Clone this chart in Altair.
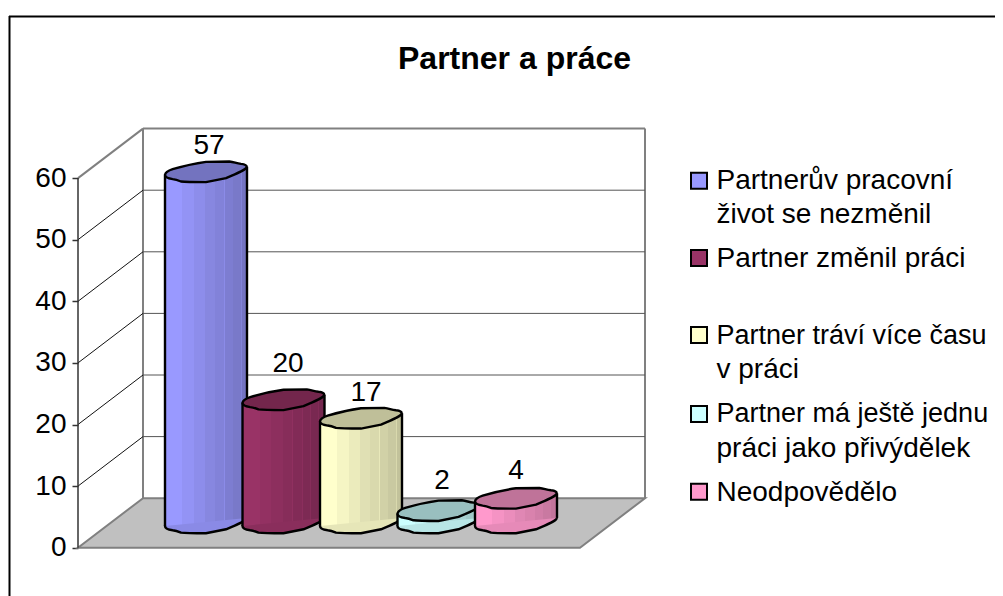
import re

import altair as alt
import pandas as pd

# ---- data -------------------------------------------------------------
title_text = "Partner a práce"
categories = ["Partnerův pracovní život se nezměnil", "Partner změnil práci",
              "Partner tráví více času v práci", "Partner má ještě jednu práci jako přivýdělek",
              "Neodpovědělo"]
values = [57, 20, 17, 2, 4]
base_colors = ["#9999FF", "#993366", "#FFFFCC", "#CCFFFF", "#FF99CC"]
y_ticks = [0, 10, 20, 30, 40, 50, 60]
legend_lines = ["Partnerův pracovní", "život se nezměnil", "Partner změnil práci",
                "Partner tráví více času", "v práci", "Partner má ještě jednu",
                "práci jako přivýdělek", "Neodpovědělo"]

# ---- layout (page pixels) ------------------------------------------------
W, H, MARGIN = 987, 588, 8
FONT = "Liberation Sans"
TEXT_SIZE = 28
X0, Y0, PX_V = 78, 547.7, 6.16        # front-plane origin, pixels per value unit
PX_U = 77.5                            # pixels per category slot
DX, DY = 65, 49.5                      # depth of the 3-D box in pixels
BOX_W = 502
FIRST = 128                            # first slot centre from X0, mid-depth
BAR_W = 82
EDGE = 2.4


def U(px):
    return (px - X0) / PX_U


def V(py):
    return (Y0 - py) / PX_V


xs = alt.Scale(domain=[U(MARGIN), U(MARGIN + W)], range=[0, W], nice=False, zero=False)
ys = alt.Scale(domain=[V(MARGIN + H), V(MARGIN)], range=[H, 0], nice=False, zero=False)


def X(f):
    return alt.X(f, type="quantitative", scale=xs, axis=None)


def Y(f, axis=None):
    return alt.Y(f, type="quantitative", scale=ys, axis=axis)


def scale_col(hexc, k):
    r, g, b = (int(hexc[i:i + 2], 16) for i in (1, 3, 5))
    return "#%02x%02x%02x" % (min(255, round(r * k)), min(255, round(g * k)), min(255, round(b * k)))


BAND_OFF = [0, .21, .35, .49, .61, .73, .83, .93, 1]
BAND_K = [1, .96, .92, .88, .85, .82, .79, .76]


def grad(c, hair=False):
    stops = []
    for i, k in enumerate(BAND_K):
        stops.append(alt.GradientStop(offset=BAND_OFF[i], color=scale_col(c, k)))
        stops.append(alt.GradientStop(offset=BAND_OFF[i + 1], color=scale_col(c, k)))
        if hair and 3 <= i < 7:
            o = BAND_OFF[i + 1]
            stops[-1] = alt.GradientStop(offset=o - .005, color=scale_col(c, k))
            stops.append(alt.GradientStop(offset=o - .005, color=scale_col(c, k + .06)))
            stops.append(alt.GradientStop(offset=o + .005, color=scale_col(c, k + .06)))
            stops.append(alt.GradientStop(offset=o + .005, color=scale_col(c, BAND_K[i + 1])))
    return alt.LinearGradient(gradient="linear", stops=stops, x1=0, x2=1, y1=0, y2=0)


# hand-traced faceted cap of the cylinder, unit = half the bar width
pts = ("M -123 9 C -122 2 -115 -3 -100 -8 C -70 -17 -30 -26 0 -30 L 70 -31 "
       "C 85 -29 90 -26 105 -24 C 115 -23 122 -20 122 -15 C 122 -8 110 -2 60 19 "
       "L 0 31 C -30 31 -60 31 -75 29 C -85 25 -90 23 -100 22 C -115 20 -123 17 -123 9 Z")
CAP = re.sub(r"-?\d+", lambda m: "%.4f" % (int(m.group()) / 123), pts)

layers = []


def rule(df, color, sw, **enc):
    return alt.Chart(pd.DataFrame(df)).mark_rule(color=color, strokeWidth=sw).encode(**enc)


# outer frame
layers.append(rule({"x": [U(9)], "x2": [U(MARGIN + W)], "y": [V(16.5)]}, "#000000", 2,
                   x=X("x"), x2="x2", y=Y("y")))
layers.append(rule({"x": [U(9.5)], "y": [V(16)], "y2": [V(MARGIN + H)]}, "#000000", 2,
                   x=X("x"), y=Y("y"), y2="y2"))

# floor
depth_v = DY / PX_V
floor = pd.DataFrame({"y": [0, depth_v], "x": [0, DX / PX_U], "x2": [BOX_W / PX_U, (BOX_W + DX) / PX_U]})
layers.append(alt.Chart(floor).mark_area(orient="horizontal", fill="#C0C0C0", stroke="#808080",
                                         strokeWidth=2, line=False)
              .encode(y=Y("y"), x=X("x"), x2="x2"))

# back wall frame and gridlines
bx, bx2 = DX / PX_U, (BOX_W + DX) / PX_U
layers.append(rule({"x": [bx], "x2": [bx2], "y": [depth_v + 60]}, "#808080", 2, x=X("x"), x2="x2", y=Y("y")))
layers.append(rule({"x": [bx, bx2], "y": [depth_v] * 2, "y2": [depth_v + 60] * 2}, "#808080", 2,
                   x=X("x"), y=Y("y"), y2="y2"))
grid = [t for t in y_ticks if 0 < t < 60]
layers.append(rule({"x": [bx] * len(grid), "x2": [bx2] * len(grid), "y": [t + depth_v for t in grid]},
                   "#555555", 1, x=X("x"), x2="x2", y=Y("y")))

# side wall diagonals
layers.append(alt.Chart(pd.DataFrame({"x": [0.0] * len(grid), "x2": [bx] * len(grid), "y": grid,
                                      "y2": [t + depth_v for t in grid]}))
              .mark_rule(color="#111111", strokeWidth=1).encode(x=X("x"), x2="x2", y=Y("y"), y2="y2"))
layers.append(alt.Chart(pd.DataFrame({"x": [0.0], "x2": [bx], "y": [60], "y2": [60 + depth_v]}))
              .mark_rule(color="#808080", strokeWidth=2).encode(x=X("x"), x2="x2", y=Y("y"), y2="y2"))

# left axis with real ticks and labels
layers.append(alt.Chart(pd.DataFrame({"x": [0.0], "y": [0], "y2": [60]}))
              .mark_rule(color="#333333", strokeWidth=1.5)
              .encode(x=X("x"),
                      y=Y("y", axis=alt.Axis(values=y_ticks, orient="left", offset=-(X0 - MARGIN), domain=False,
                                             grid=False, ticks=True, tickSize=6, tickColor="#333333",
                                             tickWidth=1.5, labelFontSize=TEXT_SIZE, labelFont=FONT,
                                             labelColor="#000000", labelPadding=6, title=None)),
                      y2="y2"))

# cylinders
half_u = (BAR_W / 2) / PX_U
for i, (v, c) in enumerate(zip(values, base_colors)):
    cx = (FIRST + i * PX_U) / PX_U
    base = depth_v / 2
    top = v + base
    lo, hi = -3 / PX_V, 5 / PX_V     # tilt of the cap at its left and right ends
    g = grad(c, hair=v > 10)
    cap_df = pd.DataFrame({"x": [cx], "y": [base], "yt": [top]})
    layers.append(alt.Chart(cap_df).mark_point(shape=CAP, size=BAR_W ** 2, filled=True, fill=scale_col(c, .9),
                                               stroke="#000000", strokeWidth=EDGE, opacity=1)
                  .encode(x=X("x"), y=Y("y")))
    body = pd.DataFrame({"x": [cx - half_u, cx + half_u], "y": [top + lo, top + hi], "y2": [base + lo, base + hi]})
    layers.append(alt.Chart(body).mark_area(orient="vertical", fill=g, line=False, opacity=1)
                  .encode(x=X("x"), y=Y("y"), y2="y2"))
    layers.append(rule({"x": body["x"], "y": body["y"], "y2": body["y2"]}, "#000000", EDGE,
                       x=X("x"), y=Y("y"), y2="y2"))
    layers.append(alt.Chart(cap_df).mark_point(shape=CAP, size=BAR_W ** 2, filled=True, fill=scale_col(c, .75),
                                               stroke="#000000", strokeWidth=EDGE, opacity=1)
                  .encode(x=X("x"), y=Y("yt")))

# value labels
label_px = [(209, 154), (288, 372), (366, 401), (442, 489), (516, 479)]
lab = pd.DataFrame({"t": [str(v) for v in values], "x": [U(p[0]) for p in label_px], "y": [V(p[1]) for p in label_px]})
layers.append(alt.Chart(lab).mark_text(font=FONT, fontSize=TEXT_SIZE, color="#000000", baseline="alphabetic",
                                       align="center")
              .encode(x=X("x"), y=Y("y"), text="t:N"))

# legend
leg_y = [180.7, 258, 335, 414, 491.7]
leg = pd.DataFrame({"cat": categories, "x": [U(699)] * 5, "y": [V(p) for p in leg_y]})
layers.append(alt.Chart(leg).mark_square(size=256, stroke="#000000", strokeWidth=2, opacity=1)
              .encode(x=X("x"), y=Y("y"),
                      fill=alt.Fill("cat:N", scale=alt.Scale(domain=categories, range=base_colors), legend=None)))
line_y = [189, 223, 267, 344, 378, 422, 457, 501]
line_size = [TEXT_SIZE, TEXT_SIZE, TEXT_SIZE, 27, TEXT_SIZE, 27, TEXT_SIZE, TEXT_SIZE]  # two long lines must fit
lines = pd.DataFrame({"t": legend_lines, "x": [U(716.5)] * 8, "y": [V(p) for p in line_y], "fs": line_size})
layers.append(alt.Chart(lines).mark_text(font=FONT, color="#000000", baseline="alphabetic", align="left")
              .encode(x=X("x"), y=Y("y"), text="t:N", size=alt.Size("fs:Q", scale=None, legend=None)))

chart = alt.layer(*layers).properties(
    width=W, height=H, padding=0,
    autosize=alt.AutoSizeParams(type="none"),
    title=alt.TitleParams(title_text, anchor="start", font=FONT, fontSize=32, fontWeight="bold",
                          color="#000000", baseline="alphabetic", dx=390, offset=-93),
    background="#FFFFFF",
).resolve_axis(y="independent", x="independent").configure_view(stroke=None)

chart.save("out.html", embed_options={"renderer": "svg", "actions": False})
